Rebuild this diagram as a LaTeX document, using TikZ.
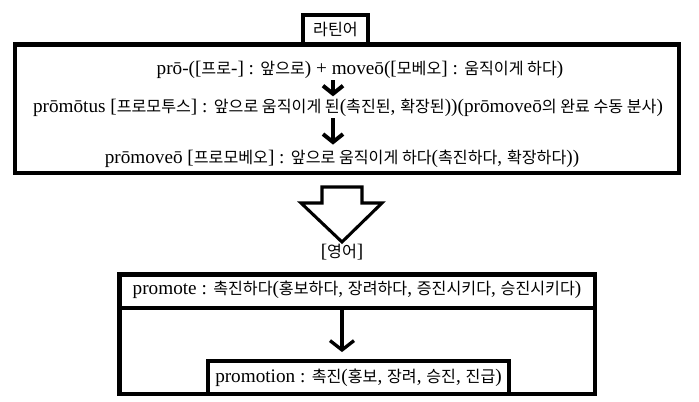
\documentclass[tikz,border=0pt]{standalone}
\usepackage{fontspec}
\setmainfont{Liberation Serif}
\newfontfamily\krfont{Noto Sans CJK KR}[Scale=0.84]
\newcommand\kr[1]{{\krfont #1}}
\usetikzlibrary{arrows.meta}

\begin{document}
\begin{tikzpicture}[x=.75pt, y=-.75pt, font=\fontsize{14.4}{16}\selectfont,
  frame/.style={draw, line width=3.4pt},
  txt/.style={inner sep=0pt},
  down/.style={line width=3pt, -{Straight Barb[length=6pt,width=15pt]}}]
  \useasboundingbox (0,0) rectangle (699,401);
  % latin
  \node[frame, line width=3pt, inner sep=0pt, minimum width=65*.75pt,
    minimum height=30*.75pt] (latin) at (335.5,29.6) {\kr{라틴어}};
  \draw[frame] (15,44.5) rectangle (679,173);
  \node[txt] (l1) at (360,70)
    {prō-([\kr{프로}-] : \kr{앞으로}) + moveō([\kr{모베오}] : \kr{움직이게 하다})};
  \node[txt] (l2) at (348,108)
    {prōmōtus [\kr{프로모투스}] : \kr{앞으로 움직이게 된}(\kr{촉진된}, \kr{확장된}))(prōmoveō\kr{의 완료 수동 분사})};
  \node[txt] (l3) at (342,159)
    {prōmoveō [\kr{프로모베오}] : \kr{앞으로 움직이게 하다}(\kr{촉진하다}, \kr{확장하다}))};
  \coordinate (ax) at (333,0);
  \draw[down] ([yshift=-1pt]l1.south -| ax) -- ([yshift=2pt]l2.north -| ax);
  \draw[down] ([yshift=-1pt]l2.south -| ax) -- ([yshift=4pt]l3.north -| ax);
  % big arrow
  \draw[line width=2.3pt, line join=miter]
    (322,187) -- (362,187) -- (362,203) -- (382,203) -- (342,242)
    -- (301,203) -- (322,203) -- cycle;
  % english
  \node[txt] (eng) at (342,252) {[\kr{영어}]};
  \draw[frame] (119.5,274.5) rectangle (595,394);
  \draw[frame] (119.5,308) -- (595,308);
  \node[txt] (pm) at (357,290)
    {promote : \kr{촉진하다}(\kr{홍보하다}, \kr{장려하다}, \kr{증진시키다}, \kr{승진시키다})};
  \node[frame, inner sep=0pt, minimum width=301*.75pt, minimum height=33*.75pt]
    (pmn) at (358.5,377.5) {promotion : \kr{촉진}(\kr{홍보}, \kr{장려}, \kr{승진}, \kr{진급})};
  \coordinate (bx) at (342,0);
  \draw[line width=2.5pt, -{Straight Barb[length=7pt,width=18pt]}]
    ([yshift=-7pt]pm.south -| bx) -- ([yshift=5pt]pmn.north -| bx);
\end{tikzpicture}
\end{document}
